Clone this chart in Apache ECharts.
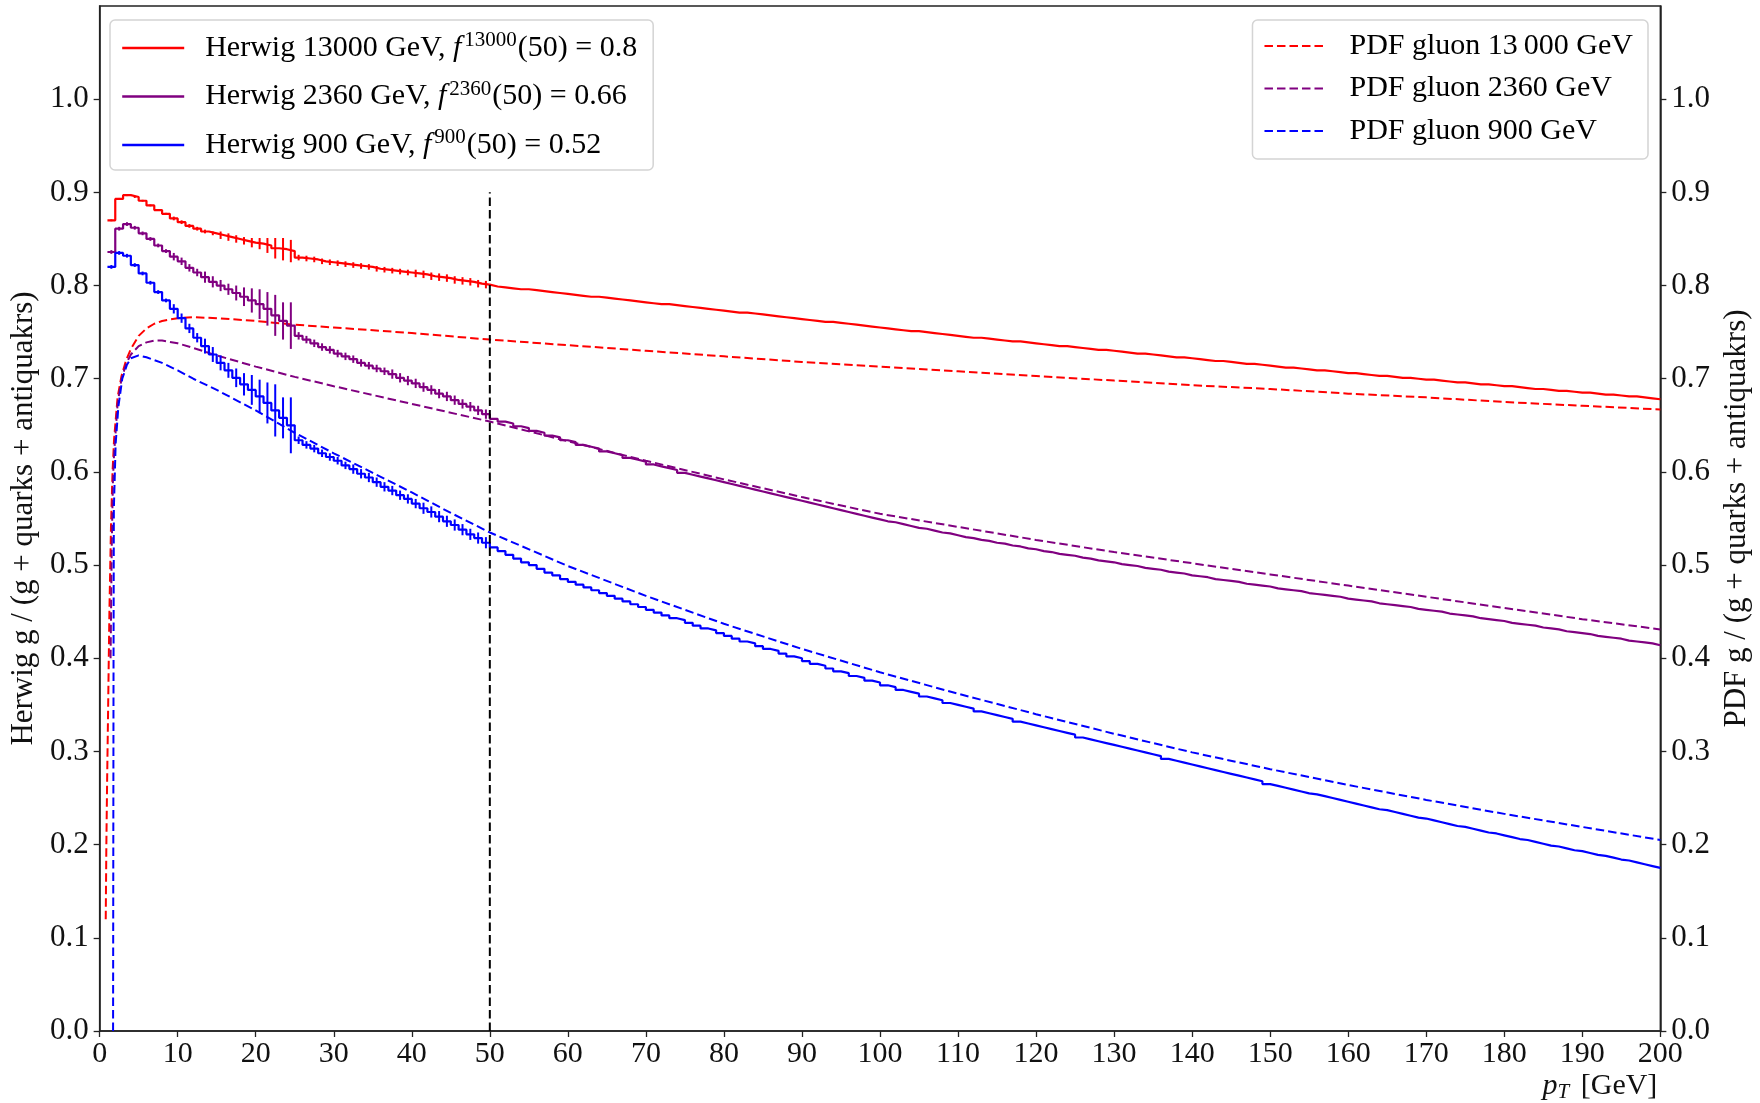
<!DOCTYPE html>
<html>
<head>
<meta charset="utf-8">
<title>Gluon fraction vs pT</title>
<script src="https://cdn.jsdelivr.net/npm/echarts@6/dist/echarts.min.js"></script>
<style>
  html, body { margin: 0; padding: 0; background: #fff; }
  #chart { width: 1760px; height: 1103px; }
</style>
</head>
<body>
<div id="chart"></div>
<script>
// Histogram bins: 1 GeV wide, first edge at 1 GeV, last edge at 200 GeV
const binStart = 1;
const binWidth = 1;

// Herwig gluon fraction per bin, bins [1,2) ... [199,200)
const herwig13000 = [
  0.870,0.893,0.897,0.895,0.891,0.886,0.881,0.877,0.872,0.868,
  0.864,0.861,0.858,0.856,0.854,0.852,0.850,0.848,0.846,0.845,
  0.843,0.840,0.839,0.837,
  0.830,0.829,0.828,0.826,0.825,
  0.824,0.823,0.822,0.821,0.820,0.818,0.817,0.816,0.815,0.814,
  0.813,0.812,0.810,0.809,0.808,0.806,0.805,0.804,0.802,0.801,
  0.799,0.798,0.797,0.796,0.796,0.795,0.794,0.793,0.792,0.791,
  0.790,0.789,0.788,0.788,0.787,0.786,0.785,0.784,0.783,0.782,
  0.781,0.780,0.780,0.779,0.778,0.777,0.776,0.775,0.774,0.773,
  0.772,0.771,0.771,0.770,0.769,0.768,0.767,0.766,0.765,0.764,
  0.763,0.762,0.761,0.761,0.760,0.759,0.758,0.757,0.756,0.755,
  0.754,0.753,0.752,0.751,0.751,0.750,0.749,0.748,0.747,0.746,
  0.745,0.744,0.744,0.743,0.742,0.741,0.740,0.740,0.739,0.738,
  0.737,0.736,0.735,0.735,0.734,0.733,0.732,0.731,0.731,0.730,
  0.729,0.728,0.727,0.727,0.726,0.725,0.724,0.723,0.723,0.722,
  0.721,0.720,0.719,0.719,0.718,0.717,0.716,0.716,0.715,0.714,
  0.713,0.712,0.712,0.711,0.710,0.709,0.709,0.708,0.707,0.706,
  0.706,0.705,0.704,0.703,0.703,0.702,0.701,0.701,0.700,0.699,
  0.699,0.698,0.697,0.696,0.696,0.695,0.694,0.694,0.693,0.692,
  0.692,0.691,0.690,0.689,0.689,0.688,0.687,0.687,0.686,0.685,
  0.685,0.684,0.683,0.683,0.682,0.681,0.681,0.680,0.679,0.678
];
const herwig2360 = [
  0.836,0.861,0.866,0.862,0.856,0.850,0.843,0.837,0.831,0.826,
  0.819,0.814,0.809,0.804,0.800,0.796,0.792,0.788,0.784,0.780,
  0.775,0.768,0.762,0.757,
  0.746,0.742,0.738,0.734,0.731,
  0.727,0.724,0.721,0.717,0.714,0.711,0.708,0.705,0.701,0.698,
  0.695,0.691,0.688,0.684,0.681,0.677,0.673,0.670,0.666,0.662,
  0.657,0.654,0.652,0.649,0.647,0.644,0.642,0.639,0.637,0.634,
  0.632,0.629,0.627,0.625,0.622,0.620,0.618,0.615,0.613,0.611,
  0.608,0.606,0.604,0.602,0.599,0.597,0.595,0.593,0.591,0.589,
  0.587,0.585,0.583,0.581,0.579,0.577,0.575,0.573,0.571,0.569,
  0.567,0.565,0.563,0.561,0.559,0.557,0.555,0.553,0.551,0.549,
  0.547,0.546,0.544,0.542,0.540,0.539,0.537,0.535,0.534,0.532,
  0.530,0.529,0.527,0.526,0.524,0.523,0.521,0.520,0.518,0.517,
  0.515,0.514,0.512,0.511,0.510,0.508,0.507,0.505,0.504,0.503,
  0.501,0.500,0.499,0.497,0.496,0.495,0.493,0.492,0.491,0.489,
  0.488,0.487,0.485,0.484,0.483,0.482,0.480,0.479,0.478,0.477,
  0.475,0.474,0.473,0.472,0.470,0.469,0.468,0.467,0.466,0.464,
  0.463,0.462,0.461,0.459,0.458,0.457,0.456,0.455,0.453,0.452,
  0.451,0.450,0.448,0.447,0.446,0.445,0.443,0.442,0.441,0.440,
  0.438,0.437,0.436,0.435,0.433,0.432,0.431,0.429,0.428,0.427,
  0.426,0.424,0.423,0.422,0.421,0.419,0.418,0.417,0.416,0.414
];
const herwig900 = [
  0.820,0.835,0.832,0.822,0.813,0.803,0.793,0.784,0.775,0.765,
  0.754,0.744,0.735,0.726,0.717,0.709,0.701,0.694,0.688,0.681,
  0.674,0.666,0.658,0.650,
  0.634,0.629,0.625,0.620,0.616,
  0.612,0.607,0.603,0.598,0.594,0.589,0.584,0.580,0.575,0.571,
  0.566,0.561,0.557,0.552,0.547,0.543,0.538,0.533,0.529,0.524,
  0.519,0.515,0.511,0.507,0.503,0.500,0.496,0.492,0.489,0.485,
  0.482,0.479,0.476,0.473,0.470,0.467,0.464,0.461,0.458,0.455,
  0.452,0.449,0.446,0.443,0.441,0.438,0.435,0.432,0.430,0.427,
  0.424,0.421,0.418,0.416,0.413,0.410,0.408,0.405,0.402,0.400,
  0.397,0.394,0.392,0.389,0.386,0.384,0.381,0.379,0.376,0.374,
  0.371,0.369,0.366,0.364,0.362,0.359,0.357,0.355,0.352,0.350,
  0.348,0.346,0.343,0.341,0.339,0.337,0.335,0.332,0.330,0.328,
  0.326,0.324,0.322,0.320,0.318,0.315,0.313,0.311,0.309,0.307,
  0.305,0.303,0.301,0.299,0.297,0.295,0.292,0.290,0.288,0.286,
  0.284,0.282,0.280,0.278,0.276,0.274,0.272,0.270,0.268,0.265,
  0.263,0.261,0.259,0.257,0.255,0.254,0.252,0.250,0.248,0.246,
  0.244,0.242,0.240,0.238,0.237,0.235,0.233,0.231,0.229,0.228,
  0.226,0.224,0.222,0.220,0.219,0.217,0.215,0.213,0.212,0.210,
  0.208,0.206,0.205,0.203,0.201,0.199,0.198,0.196,0.194,0.193,
  0.191,0.189,0.188,0.186,0.184,0.183,0.181,0.179,0.177,0.175
];

// Statistical uncertainty (half width) for the first 49 bins
const err13000 = [
  0.001,0.001,0.001,0.001,0.001,0.001,0.001,0.001,0.002,0.002,
  0.002,0.002,0.002,0.002,0.004,0.004,0.004,0.004,0.005,0.006,
  0.008,0.011,0.012,0.012,
  0.003,0.003,0.003,0.003,0.003,0.003,0.003,0.003,0.003,0.003,
  0.003,0.003,0.003,0.003,0.003,0.004,0.004,0.004,0.004,0.004,
  0.004,0.004,0.004,0.004,0.004
];
const err2360 = [
  0.002,0.002,0.002,0.002,0.002,0.002,0.002,0.002,0.004,0.004,
  0.004,0.004,0.006,0.006,0.006,0.006,0.008,0.010,0.013,0.016,
  0.018,0.022,0.020,0.025,
  0.004,0.004,0.004,0.004,0.004,0.004,0.004,0.004,0.004,0.004,
  0.004,0.004,0.005,0.005,0.005,0.005,0.005,0.005,0.005,0.005,
  0.005,0.005,0.005,0.005,0.005
];
const err900 = [
  0.002,0.002,0.002,0.002,0.002,0.002,0.002,0.002,0.005,0.005,
  0.005,0.005,0.008,0.008,0.008,0.008,0.010,0.012,0.016,0.018,
  0.022,0.028,0.022,0.030,
  0.004,0.004,0.004,0.004,0.004,0.004,0.004,0.005,0.005,0.005,
  0.005,0.005,0.005,0.005,0.005,0.005,0.006,0.006,0.006,0.006,
  0.006,0.006,0.006,0.006,0.006
];

// PDF gluon fraction, [pT, fraction]
const pdf13000 = [
  [0.78,0.12],[0.86,0.20],[0.96,0.27],[1.06,0.33],[1.25,0.45],[1.45,0.54],[1.65,0.60],
  [1.85,0.635],[2.3,0.68],[2.8,0.703],[3.4,0.72],[4,0.732],[5,0.746],[6,0.754],
  [7,0.759],[8,0.762],[10,0.765],[12,0.766],[15,0.765],[20,0.762],[25,0.758],
  [30,0.755],[40,0.749],[50,0.742],[60,0.736],[70,0.730],[80,0.724],[90,0.718],
  [100,0.713],[110,0.708],[120,0.703],[130,0.698],[140,0.693],[150,0.689],
  [160,0.684],[170,0.680],[180,0.675],[190,0.671],[200,0.667]
];
const pdf2360 = [
  [1.4,0.40],[1.55,0.52],[1.7,0.59],[1.85,0.62],[2.3,0.673],[2.8,0.700],[3.4,0.716],
  [4,0.726],[5,0.735],[6,0.739],[7,0.741],[8,0.741],[10,0.738],[12,0.733],
  [15,0.725],[20,0.713],[25,0.702],[30,0.692],[40,0.673],[50,0.654],[60,0.633],
  [70,0.612],[80,0.592],[90,0.573],[100,0.555],[110,0.541],[120,0.527],
  [130,0.514],[140,0.502],[150,0.490],[160,0.478],[170,0.466],[180,0.454],
  [190,0.442],[200,0.431]
];
const pdf900 = [
  [1.72,0.0],[1.75,0.2],[1.78,0.4],[1.82,0.56],[2.05,0.63],[2.4,0.67],[2.9,0.70],
  [3.5,0.715],[4,0.722],[5,0.725],[6,0.723],[8,0.717],[10,0.709],[12,0.700],
  [15,0.688],[20,0.666],[25,0.642],[30,0.620],[35,0.599],[40,0.578],[45,0.556],
  [50,0.535],[60,0.499],[70,0.467],[80,0.437],[90,0.410],[100,0.385],[110,0.362],
  [120,0.340],[130,0.319],[140,0.299],[150,0.281],[160,0.264],[170,0.248],
  [180,0.233],[190,0.219],[200,0.205]
];

// Reference cut at pT = 50 GeV
const cutPt = 50;
const cutTop = 0.9;

// Legend texts
const energies = ['13000', '2360', '900'];
const f50 = ['0.8', '0.66', '0.52'];
const herwigNames = ['Herwig 13000 GeV', 'Herwig 2360 GeV', 'Herwig 900 GeV'];
const pdfNames = ['PDF gluon 13\u2009000 GeV', 'PDF gluon 2360 GeV', 'PDF gluon 900 GeV'];
const colors = ['#ff0000', '#800080', '#0000ff'];

// Axis ticks
const yTicks = [0.0, 0.1, 0.2, 0.3, 0.4, 0.5, 0.6, 0.7, 0.8, 0.9, 1.0];

const FONT = 'Liberation Serif';
const INK = '#111';

function stepData(vals) {
  const d = vals.map((v, i) => [binStart + i * binWidth, v]);
  d.push([binStart + vals.length * binWidth, vals[vals.length - 1]]);
  return d;
}
function errData(vals, errs) {
  return errs.map((e, i) => [binStart + (i + 0.5) * binWidth, vals[i] - e, vals[i] + e]);
}
function errSeries(vals, errs, color) {
  return {
    type: 'custom',
    xAxisIndex: 0, yAxisIndex: 0,
    z: 4,
    silent: true,
    encode: { x: 0, y: [1, 2] },
    data: errData(vals, errs),
    renderItem: function (params, api) {
      const a = api.coord([api.value(0), api.value(1)]);
      const b = api.coord([api.value(0), api.value(2)]);
      return {
        type: 'line',
        shape: { x1: a[0], y1: a[1], x2: b[0], y2: b[1] },
        style: { stroke: color, lineWidth: 2 }
      };
    }
  };
}

const herwigVals = [herwig13000, herwig2360, herwig900];
const herwigErrs = [err13000, err2360, err900];
const pdfVals = [pdf13000, pdf2360, pdf900];

const series = [];
pdfVals.forEach((d, k) => {
  series.push({
    name: pdfNames[k], type: 'line', yAxisIndex: 1, z: 2,
    symbol: 'none', data: d,
    lineStyle: { color: colors[k], width: 2, type: [8.5, 4] },
    itemStyle: { color: colors[k] }
  });
});
herwigVals.forEach((v, k) => {
  series.push({
    name: herwigNames[k], type: 'line', yAxisIndex: 0, z: 3,
    symbol: 'none', step: 'end', data: stepData(v),
    lineStyle: { color: colors[k], width: 2.2 },
    itemStyle: { color: colors[k] }
  });
  series.push(errSeries(v, herwigErrs[k], colors[k]));
});
series.push({
  name: 'cut', type: 'line', yAxisIndex: 0, z: 5, symbol: 'none', silent: true,
  data: [[cutPt, 0], [cutPt, cutTop]],
  lineStyle: { color: '#000', width: 2, type: [8.5, 4] }
});

const axisCommon = {
  axisLine: { show: true, lineStyle: { color: '#222', width: 1.5 } },
  axisTick: { show: true, length: 6, lineStyle: { color: '#222', width: 1.3 } },
  splitLine: { show: false }
};

const legendText = {
  fontFamily: FONT, fontSize: 30, color: '#000'
};

const option = {
  animation: false,
  backgroundColor: '#fff',
  grid: {
    left: 96, right: 97, top: 6, bottom: 72,
    show: true, borderColor: '#222', borderWidth: 1.5, backgroundColor: 'transparent'
  },
  xAxis: Object.assign({}, axisCommon, {
    type: 'value', min: 0, max: 200, interval: 10,
    axisLabel: { fontFamily: FONT, fontSize: 30, color: INK, margin: 8 },
    name: '{i|p}{sub|T} [GeV]',
    nameLocation: 'end', nameGap: -3,
    nameTextStyle: {
      fontFamily: FONT, fontSize: 30, color: INK, align: 'right', verticalAlign: 'top',
      padding: [38, 0, 0, 0],
      rich: {
        i: { fontFamily: FONT, fontSize: 30, fontStyle: 'italic', color: INK, lineHeight: 34 },
        sub: { fontFamily: FONT, fontSize: 21, fontStyle: 'italic', color: INK, lineHeight: 12, verticalAlign: 'bottom', padding: [0, 4, 0, 0] }
      }
    }
  }),
  yAxis: [
    Object.assign({}, axisCommon, {
      type: 'value', min: 0, max: 1.1, interval: 0.1, position: 'left',
      axisTick: Object.assign({}, axisCommon.axisTick, { customValues: yTicks }),
      axisLabel: {
        fontFamily: FONT, fontSize: 31, color: INK, margin: 11, customValues: yTicks,
        formatter: v => (v > 1.05 ? '' : v.toFixed(1))
      },
      name: 'Herwig g / (g + quarks + antiquakrs)',
      nameLocation: 'middle', nameRotate: 90, nameGap: 56,
      nameTextStyle: { fontFamily: FONT, fontSize: 31, color: INK }
    }),
    Object.assign({}, axisCommon, {
      type: 'value', min: 0, max: 1.1, interval: 0.1, position: 'right',
      axisTick: Object.assign({}, axisCommon.axisTick, { customValues: yTicks }),
      axisLabel: {
        fontFamily: FONT, fontSize: 31, color: INK, margin: 11, customValues: yTicks,
        formatter: v => (v > 1.05 ? '' : v.toFixed(1))
      },
      name: 'PDF g / (g + quarks + antiquakrs)',
      nameLocation: 'middle', nameRotate: 90, nameGap: 50,
      nameTextStyle: { fontFamily: FONT, fontSize: 31, color: INK }
    })
  ],
  legend: [
    {
      data: herwigNames, orient: 'vertical', left: 110, top: 20,
      padding: [10, 16, 10, 11], itemWidth: 62, itemHeight: 14, itemGap: 15.5,
      backgroundColor: '#fff', borderColor: '#d4d4d4', borderWidth: 1.5, borderRadius: 5,
      selectedMode: false,
      itemStyle: { opacity: 0 },
      lineStyle: { width: 2.4 },
      textStyle: Object.assign({}, legendText, {
        padding: [0, 0, 0, 16],
        rich: {
          t: { fontFamily: FONT, fontSize: 30, color: '#000', lineHeight: 36 },
          i: { fontFamily: FONT, fontSize: 30, color: '#000', fontStyle: 'italic', lineHeight: 36 },
          s: { fontFamily: FONT, fontSize: 21, color: '#000', lineHeight: 14, verticalAlign: 'top', padding: [0, 1, 0, 3] }
        }
      }),
      formatter: function (name) {
        const k = herwigNames.indexOf(name);
        return '{t|' + name + ', }{i|f}{s|' + energies[k] + '}{t|(50) = ' + f50[k] + '}';
      }
    },
    {
      data: pdfNames, orient: 'vertical', right: 112, top: 20,
      padding: [11, 15, 13, 11], itemWidth: 62, itemHeight: 14, itemGap: 12.5,
      backgroundColor: '#fff', borderColor: '#d4d4d4', borderWidth: 1.5, borderRadius: 5,
      selectedMode: false,
      itemStyle: { opacity: 0 },
      textStyle: Object.assign({}, legendText, { padding: [0, 0, 0, 18], lineHeight: 30 })
    }
  ],
  series: series
};

const chart = echarts.init(document.getElementById('chart'), null, { renderer: 'canvas' });
chart.setOption(option);
</script>
</body>
</html>
